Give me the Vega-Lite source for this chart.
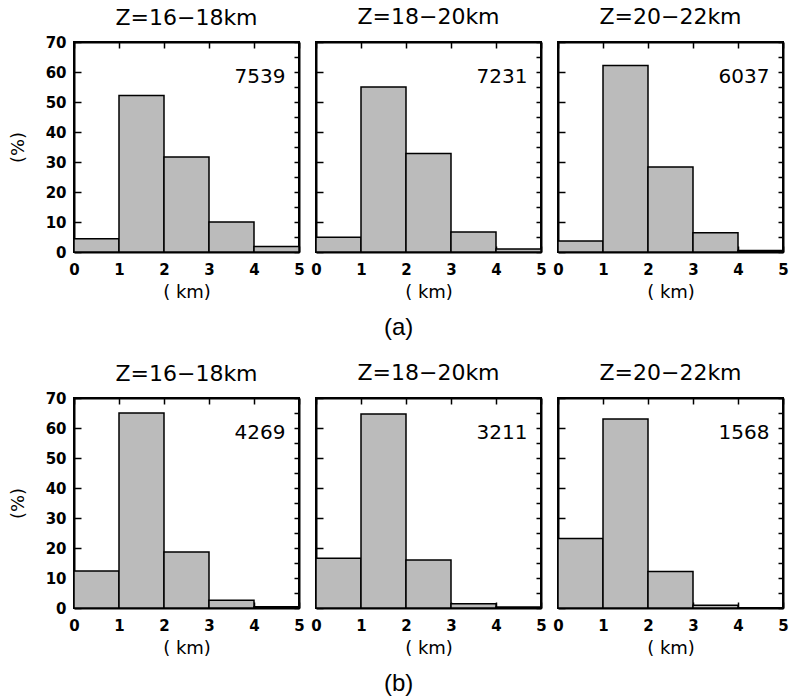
{
  "$schema": "https://vega.github.io/schema/vega-lite/v6.json",
  "padding": {"left": 8, "top": 5, "right": 0, "bottom": 4},
  "background": "white",
  "datasets": {
    "bins": [
      {"p": "a1", "lo": 0, "hi": 1, "pct": 4.4},
      {"p": "a1", "lo": 1, "hi": 2, "pct": 52.2},
      {"p": "a1", "lo": 2, "hi": 3, "pct": 31.7},
      {"p": "a1", "lo": 3, "hi": 4, "pct": 10.0},
      {"p": "a1", "lo": 4, "hi": 5, "pct": 1.8},
      {"p": "a2", "lo": 0, "hi": 1, "pct": 4.9},
      {"p": "a2", "lo": 1, "hi": 2, "pct": 55.0},
      {"p": "a2", "lo": 2, "hi": 3, "pct": 32.8},
      {"p": "a2", "lo": 3, "hi": 4, "pct": 6.7},
      {"p": "a2", "lo": 4, "hi": 5, "pct": 1.0},
      {"p": "a3", "lo": 0, "hi": 1, "pct": 3.7},
      {"p": "a3", "lo": 1, "hi": 2, "pct": 62.2},
      {"p": "a3", "lo": 2, "hi": 3, "pct": 28.3},
      {"p": "a3", "lo": 3, "hi": 4, "pct": 6.4},
      {"p": "a3", "lo": 4, "hi": 5, "pct": 0.5},
      {"p": "b1", "lo": 0, "hi": 1, "pct": 12.3},
      {"p": "b1", "lo": 1, "hi": 2, "pct": 65.0},
      {"p": "b1", "lo": 2, "hi": 3, "pct": 18.7},
      {"p": "b1", "lo": 3, "hi": 4, "pct": 2.6},
      {"p": "b1", "lo": 4, "hi": 5, "pct": 0.4},
      {"p": "b2", "lo": 0, "hi": 1, "pct": 16.6},
      {"p": "b2", "lo": 1, "hi": 2, "pct": 64.7},
      {"p": "b2", "lo": 2, "hi": 3, "pct": 16.0},
      {"p": "b2", "lo": 3, "hi": 4, "pct": 1.4},
      {"p": "b2", "lo": 4, "hi": 5, "pct": 0.3},
      {"p": "b3", "lo": 0, "hi": 1, "pct": 23.2},
      {"p": "b3", "lo": 1, "hi": 2, "pct": 63.0},
      {"p": "b3", "lo": 2, "hi": 3, "pct": 12.2},
      {"p": "b3", "lo": 3, "hi": 4, "pct": 0.9},
      {"p": "b3", "lo": 4, "hi": 5, "pct": 0.1}
    ],
    "counts": [
      {"p": "a1", "n": "7539"},
      {"p": "a2", "n": "7231"},
      {"p": "a3", "n": "6037"},
      {"p": "b1", "n": "4269"},
      {"p": "b2", "n": "3211"},
      {"p": "b3", "n": "1568"}
    ]
  },
  "vconcat": [
    {
      "title": {"text": "(a)", "orient": "bottom", "anchor": "middle", "font": "Liberation Sans", "fontSize": 24, "fontWeight": "normal", "offset": 14},
      "bounds": "flush",
      "spacing": 17,
      "hconcat": [
        {
          "width": 225, "height": 210,
          "title": {"text": "Z=16−18km", "offset": 5},
          "resolve": {"scale": {"x": "independent", "y": "independent"}},
          "layer": [
            {
              "data": {"name": "bins"},
              "transform": [{"filter": "datum.p === 'a1'"}],
              "mark": {"type": "rect", "fill": "#bbbbbb", "stroke": "black", "strokeWidth": 1.5},
              "encoding": {
                "x": {"field": "lo", "type": "quantitative", "scale": {"domain": [0, 5], "nice": false},
                  "axis": {"orient": "bottom", "values": [0, 1, 2, 3, 4, 5], "tickSize": -6, "labelPadding": 16, "title": "( km)", "titlePadding": 6, "labelFlush": false, "labelOverlap": false}},
                "x2": {"field": "hi"},
                "y": {"field": "pct", "type": "quantitative", "scale": {"domain": [0, 70], "nice": false},
                  "axis": {"orient": "left", "values": [0, 10, 20, 30, 40, 50, 60, 70], "tickSize": -7, "labelPadding": 15, "labelOverlap": false, "title": "(%)", "titlePadding": 18}},
                "y2": {"datum": 0}
              }
            },
            {
              "data": {"name": "counts"},
              "transform": [{"filter": "datum.p === 'a1'"}],
              "mark": {"type": "text", "align": "right", "baseline": "middle", "fontSize": 20, "font": "DejaVu Sans", "color": "black"},
              "encoding": {
                "x": {"datum": 4.7, "type": "quantitative", "scale": {"domain": [0, 5], "nice": false}, "axis": null},
                "y": {"datum": 58.5, "type": "quantitative", "scale": {"domain": [0, 70], "nice": false}, "axis": null},
                "text": {"field": "n"}
              }
            },
            {
              "data": {"name": "bins"},
              "transform": [{"filter": "datum.p === 'a1'"}],
              "mark": {"type": "point", "opacity": 0},
              "encoding": {
                "x": {"field": "lo", "type": "quantitative", "scale": {"domain": [0, 5], "nice": false},
                  "axis": {"orient": "top", "values": [0, 1, 2, 3, 4, 5], "tickSize": -6, "labels": false, "title": null}},
                "y": {"field": "pct", "type": "quantitative", "scale": {"domain": [0, 70], "nice": false},
                  "axis": {"orient": "right", "values": [0, 5, 10, 15, 20, 25, 30, 35, 40, 45, 50, 55, 60, 65, 70], "tickSize": -5, "labels": false, "title": null}}
              }
            }
          ]
        },
        {
          "width": 225, "height": 210,
          "title": {"text": "Z=18−20km"},
          "resolve": {"scale": {"x": "independent", "y": "independent"}},
          "layer": [
            {
              "data": {"name": "bins"},
              "transform": [{"filter": "datum.p === 'a2'"}],
              "mark": {"type": "rect", "fill": "#bbbbbb", "stroke": "black", "strokeWidth": 1.5},
              "encoding": {
                "x": {"field": "lo", "type": "quantitative", "scale": {"domain": [0, 5], "nice": false},
                  "axis": {"orient": "bottom", "values": [0, 1, 2, 3, 4, 5], "tickSize": -6, "labelPadding": 16, "title": "( km)", "titlePadding": 6, "labelFlush": false, "labelOverlap": false}},
                "x2": {"field": "hi"},
                "y": {"field": "pct", "type": "quantitative", "scale": {"domain": [0, 70], "nice": false},
                  "axis": {"orient": "left", "values": [0, 10, 20, 30, 40, 50, 60, 70], "tickSize": -7, "labels": false, "title": null}},
                "y2": {"datum": 0}
              }
            },
            {
              "data": {"name": "counts"},
              "transform": [{"filter": "datum.p === 'a2'"}],
              "mark": {"type": "text", "align": "right", "baseline": "middle", "fontSize": 20, "font": "DejaVu Sans", "color": "black"},
              "encoding": {
                "x": {"datum": 4.7, "type": "quantitative", "scale": {"domain": [0, 5], "nice": false}, "axis": null},
                "y": {"datum": 58.5, "type": "quantitative", "scale": {"domain": [0, 70], "nice": false}, "axis": null},
                "text": {"field": "n"}
              }
            },
            {
              "data": {"name": "bins"},
              "transform": [{"filter": "datum.p === 'a2'"}],
              "mark": {"type": "point", "opacity": 0},
              "encoding": {
                "x": {"field": "lo", "type": "quantitative", "scale": {"domain": [0, 5], "nice": false},
                  "axis": {"orient": "top", "values": [0, 1, 2, 3, 4, 5], "tickSize": -6, "labels": false, "title": null}},
                "y": {"field": "pct", "type": "quantitative", "scale": {"domain": [0, 70], "nice": false},
                  "axis": {"orient": "right", "values": [0, 5, 10, 15, 20, 25, 30, 35, 40, 45, 50, 55, 60, 65, 70], "tickSize": -5, "labels": false, "title": null}}
              }
            }
          ]
        },
        {
          "width": 225, "height": 210,
          "title": {"text": "Z=20−22km"},
          "resolve": {"scale": {"x": "independent", "y": "independent"}},
          "layer": [
            {
              "data": {"name": "bins"},
              "transform": [{"filter": "datum.p === 'a3'"}],
              "mark": {"type": "rect", "fill": "#bbbbbb", "stroke": "black", "strokeWidth": 1.5},
              "encoding": {
                "x": {"field": "lo", "type": "quantitative", "scale": {"domain": [0, 5], "nice": false},
                  "axis": {"orient": "bottom", "values": [0, 1, 2, 3, 4, 5], "tickSize": -6, "labelPadding": 16, "title": "( km)", "titlePadding": 6, "labelFlush": false, "labelOverlap": false}},
                "x2": {"field": "hi"},
                "y": {"field": "pct", "type": "quantitative", "scale": {"domain": [0, 70], "nice": false},
                  "axis": {"orient": "left", "values": [0, 10, 20, 30, 40, 50, 60, 70], "tickSize": -7, "labels": false, "title": null}},
                "y2": {"datum": 0}
              }
            },
            {
              "data": {"name": "counts"},
              "transform": [{"filter": "datum.p === 'a3'"}],
              "mark": {"type": "text", "align": "right", "baseline": "middle", "fontSize": 20, "font": "DejaVu Sans", "color": "black"},
              "encoding": {
                "x": {"datum": 4.7, "type": "quantitative", "scale": {"domain": [0, 5], "nice": false}, "axis": null},
                "y": {"datum": 58.5, "type": "quantitative", "scale": {"domain": [0, 70], "nice": false}, "axis": null},
                "text": {"field": "n"}
              }
            },
            {
              "data": {"name": "bins"},
              "transform": [{"filter": "datum.p === 'a3'"}],
              "mark": {"type": "point", "opacity": 0},
              "encoding": {
                "x": {"field": "lo", "type": "quantitative", "scale": {"domain": [0, 5], "nice": false},
                  "axis": {"orient": "top", "values": [0, 1, 2, 3, 4, 5], "tickSize": -6, "labels": false, "title": null}},
                "y": {"field": "pct", "type": "quantitative", "scale": {"domain": [0, 70], "nice": false},
                  "axis": {"orient": "right", "values": [0, 5, 10, 15, 20, 25, 30, 35, 40, 45, 50, 55, 60, 65, 70], "tickSize": -5, "labels": false, "title": null}}
              }
            }
          ]
        }
      ]
    },
    {
      "title": {"text": "(b)", "orient": "bottom", "anchor": "middle", "font": "Liberation Sans", "fontSize": 24, "fontWeight": "normal", "offset": 14},
      "bounds": "flush",
      "spacing": 17,
      "hconcat": [
        {
          "width": 225, "height": 210,
          "title": {"text": "Z=16−18km", "offset": 5},
          "resolve": {"scale": {"x": "independent", "y": "independent"}},
          "layer": [
            {
              "data": {"name": "bins"},
              "transform": [{"filter": "datum.p === 'b1'"}],
              "mark": {"type": "rect", "fill": "#bbbbbb", "stroke": "black", "strokeWidth": 1.5},
              "encoding": {
                "x": {"field": "lo", "type": "quantitative", "scale": {"domain": [0, 5], "nice": false},
                  "axis": {"orient": "bottom", "values": [0, 1, 2, 3, 4, 5], "tickSize": -6, "labelPadding": 16, "title": "( km)", "titlePadding": 6, "labelFlush": false, "labelOverlap": false}},
                "x2": {"field": "hi"},
                "y": {"field": "pct", "type": "quantitative", "scale": {"domain": [0, 70], "nice": false},
                  "axis": {"orient": "left", "values": [0, 10, 20, 30, 40, 50, 60, 70], "tickSize": -7, "labelPadding": 15, "labelOverlap": false, "title": "(%)", "titlePadding": 18}},
                "y2": {"datum": 0}
              }
            },
            {
              "data": {"name": "counts"},
              "transform": [{"filter": "datum.p === 'b1'"}],
              "mark": {"type": "text", "align": "right", "baseline": "middle", "fontSize": 20, "font": "DejaVu Sans", "color": "black"},
              "encoding": {
                "x": {"datum": 4.7, "type": "quantitative", "scale": {"domain": [0, 5], "nice": false}, "axis": null},
                "y": {"datum": 58.5, "type": "quantitative", "scale": {"domain": [0, 70], "nice": false}, "axis": null},
                "text": {"field": "n"}
              }
            },
            {
              "data": {"name": "bins"},
              "transform": [{"filter": "datum.p === 'b1'"}],
              "mark": {"type": "point", "opacity": 0},
              "encoding": {
                "x": {"field": "lo", "type": "quantitative", "scale": {"domain": [0, 5], "nice": false},
                  "axis": {"orient": "top", "values": [0, 1, 2, 3, 4, 5], "tickSize": -6, "labels": false, "title": null}},
                "y": {"field": "pct", "type": "quantitative", "scale": {"domain": [0, 70], "nice": false},
                  "axis": {"orient": "right", "values": [0, 5, 10, 15, 20, 25, 30, 35, 40, 45, 50, 55, 60, 65, 70], "tickSize": -5, "labels": false, "title": null}}
              }
            }
          ]
        },
        {
          "width": 225, "height": 210,
          "title": {"text": "Z=18−20km"},
          "resolve": {"scale": {"x": "independent", "y": "independent"}},
          "layer": [
            {
              "data": {"name": "bins"},
              "transform": [{"filter": "datum.p === 'b2'"}],
              "mark": {"type": "rect", "fill": "#bbbbbb", "stroke": "black", "strokeWidth": 1.5},
              "encoding": {
                "x": {"field": "lo", "type": "quantitative", "scale": {"domain": [0, 5], "nice": false},
                  "axis": {"orient": "bottom", "values": [0, 1, 2, 3, 4, 5], "tickSize": -6, "labelPadding": 16, "title": "( km)", "titlePadding": 6, "labelFlush": false, "labelOverlap": false}},
                "x2": {"field": "hi"},
                "y": {"field": "pct", "type": "quantitative", "scale": {"domain": [0, 70], "nice": false},
                  "axis": {"orient": "left", "values": [0, 10, 20, 30, 40, 50, 60, 70], "tickSize": -7, "labels": false, "title": null}},
                "y2": {"datum": 0}
              }
            },
            {
              "data": {"name": "counts"},
              "transform": [{"filter": "datum.p === 'b2'"}],
              "mark": {"type": "text", "align": "right", "baseline": "middle", "fontSize": 20, "font": "DejaVu Sans", "color": "black"},
              "encoding": {
                "x": {"datum": 4.7, "type": "quantitative", "scale": {"domain": [0, 5], "nice": false}, "axis": null},
                "y": {"datum": 58.5, "type": "quantitative", "scale": {"domain": [0, 70], "nice": false}, "axis": null},
                "text": {"field": "n"}
              }
            },
            {
              "data": {"name": "bins"},
              "transform": [{"filter": "datum.p === 'b2'"}],
              "mark": {"type": "point", "opacity": 0},
              "encoding": {
                "x": {"field": "lo", "type": "quantitative", "scale": {"domain": [0, 5], "nice": false},
                  "axis": {"orient": "top", "values": [0, 1, 2, 3, 4, 5], "tickSize": -6, "labels": false, "title": null}},
                "y": {"field": "pct", "type": "quantitative", "scale": {"domain": [0, 70], "nice": false},
                  "axis": {"orient": "right", "values": [0, 5, 10, 15, 20, 25, 30, 35, 40, 45, 50, 55, 60, 65, 70], "tickSize": -5, "labels": false, "title": null}}
              }
            }
          ]
        },
        {
          "width": 225, "height": 210,
          "title": {"text": "Z=20−22km"},
          "resolve": {"scale": {"x": "independent", "y": "independent"}},
          "layer": [
            {
              "data": {"name": "bins"},
              "transform": [{"filter": "datum.p === 'b3'"}],
              "mark": {"type": "rect", "fill": "#bbbbbb", "stroke": "black", "strokeWidth": 1.5},
              "encoding": {
                "x": {"field": "lo", "type": "quantitative", "scale": {"domain": [0, 5], "nice": false},
                  "axis": {"orient": "bottom", "values": [0, 1, 2, 3, 4, 5], "tickSize": -6, "labelPadding": 16, "title": "( km)", "titlePadding": 6, "labelFlush": false, "labelOverlap": false}},
                "x2": {"field": "hi"},
                "y": {"field": "pct", "type": "quantitative", "scale": {"domain": [0, 70], "nice": false},
                  "axis": {"orient": "left", "values": [0, 10, 20, 30, 40, 50, 60, 70], "tickSize": -7, "labels": false, "title": null}},
                "y2": {"datum": 0}
              }
            },
            {
              "data": {"name": "counts"},
              "transform": [{"filter": "datum.p === 'b3'"}],
              "mark": {"type": "text", "align": "right", "baseline": "middle", "fontSize": 20, "font": "DejaVu Sans", "color": "black"},
              "encoding": {
                "x": {"datum": 4.7, "type": "quantitative", "scale": {"domain": [0, 5], "nice": false}, "axis": null},
                "y": {"datum": 58.5, "type": "quantitative", "scale": {"domain": [0, 70], "nice": false}, "axis": null},
                "text": {"field": "n"}
              }
            },
            {
              "data": {"name": "bins"},
              "transform": [{"filter": "datum.p === 'b3'"}],
              "mark": {"type": "point", "opacity": 0},
              "encoding": {
                "x": {"field": "lo", "type": "quantitative", "scale": {"domain": [0, 5], "nice": false},
                  "axis": {"orient": "top", "values": [0, 1, 2, 3, 4, 5], "tickSize": -6, "labels": false, "title": null}},
                "y": {"field": "pct", "type": "quantitative", "scale": {"domain": [0, 70], "nice": false},
                  "axis": {"orient": "right", "values": [0, 5, 10, 15, 20, 25, 30, 35, 40, 45, 50, 55, 60, 65, 70], "tickSize": -5, "labels": false, "title": null}}
              }
            }
          ]
        }
      ]
    }
  ],
  "spacing": 21,
  "config": {
    "font": "DejaVu Sans",
    "view": {"stroke": "black", "strokeWidth": 2},
    "axis": {
      "domainColor": "black", "domainWidth": 2,
      "tickColor": "black", "tickWidth": 1.5,
      "labelColor": "black", "labelFont": "DejaVu Sans", "labelFontSize": 15, "labelFontWeight": "bold",
      "titleColor": "black", "titleFont": "DejaVu Sans", "titleFontSize": 18, "titleFontWeight": "normal",
      "grid": false
    },
    "title": {"font": "DejaVu Sans", "fontSize": 22, "fontWeight": "normal", "color": "black", "offset": 12}
  }
}
